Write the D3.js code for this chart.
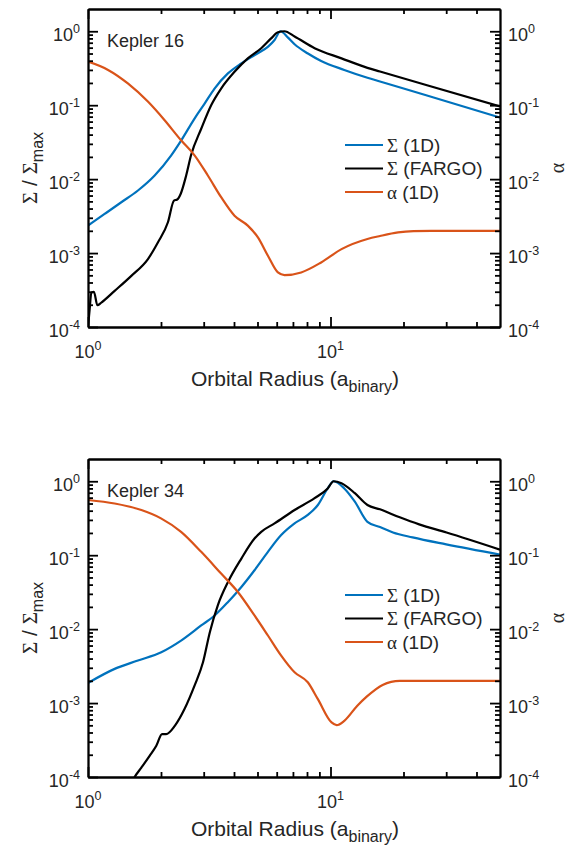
<!DOCTYPE html>
<html>
<head>
<meta charset="utf-8">
<script src="https://cdn.jsdelivr.net/npm/d3@7"></script>
<style>
  body { margin: 0; background: #fff; }
  svg { display: block; }
  text { font-family: Helvetica, Arial, "Liberation Sans", sans-serif; fill: #262626; }
  .sym { font-family: "Times New Roman", "Liberation Serif", "DejaVu Serif", serif; }
</style>
</head>
<body>
<svg id="chart" width="575" height="845"></svg>
<script>
// Kepler 16 panel, [radius, value]
const k16_sig1d = [
  [1, 2.35e-3], [1.171, 3.38e-3], [1.372, 4.87e-3], [1.607, 7.02e-3], [1.883, 0.0112],
  [2.204, 0.021], [2.424, 0.0335], [2.75, 0.066], [3.026, 0.105], [3.325, 0.168],
  [3.776, 0.269], [4.288, 0.368], [4.87, 0.477], [5.53, 0.62], [5.88, 0.762], [6.22, 1.0],
  [6.68, 0.82], [7.11, 0.667], [8.07, 0.5], [9.15, 0.396], [11.4, 0.3], [14.2, 0.235],
  [16, 0.209], [25, 0.135], [50, 0.068]
]
const k16_fargo = [
  [1.0, 1.0e-4], [1.016, 1.74e-4], [1.032, 2.92e-4], [1.058, 2.99e-4], [1.093, 1.97e-4],
  [1.135, 2.14e-4], [1.288, 3.08e-4], [1.509, 4.92e-4], [1.767, 8.3e-4], [1.944, 1.4e-3],
  [2.136, 2.61e-3], [2.262, 5.13e-3], [2.333, 5.3e-3], [2.41, 6.3e-3], [2.54, 0.0112],
  [2.66, 0.021], [2.93, 0.048], [3.22, 0.1], [3.54, 0.168], [4.02, 0.283], [4.56, 0.43],
  [5.18, 0.59], [5.69, 0.8], [6.07, 0.97], [6.46, 1.0], [7.11, 0.85], [8.6, 0.59],
  [11.1, 0.43], [14.2, 0.32], [16, 0.285], [25, 0.186], [50, 0.096]
]
const k16_alpha = [
  [1, 0.388], [1.21, 0.30], [1.46, 0.197], [1.77, 0.111], [2.07, 0.0626], [2.42, 0.0335],
  [2.75, 0.021], [3.12, 0.0112], [3.54, 5.7e-3], [4.02, 3.2e-3], [4.56, 2.35e-3],
  [5.02, 1.63e-3], [5.52, 9.2e-4], [6.07, 5.47e-4], [6.46, 5.03e-4], [7.57, 5.47e-4],
  [9.15, 7.47e-4], [11.1, 1.13e-3], [14.2, 1.55e-3], [16, 1.7e-3], [19, 1.9e-3],
  [22, 1.98e-3], [26, 2.0e-3], [50, 2.0e-3]
]

// Kepler 34 panel
const k34_sig1d = [
  [1, 1.87e-3], [1.288, 2.9e-3], [1.607, 3.76e-3], [2.005, 4.87e-3], [2.42, 7.0e-3],
  [2.93, 0.0112], [3.33, 0.0153], [3.78, 0.0233], [4.29, 0.0372], [4.86, 0.0626],
  [5.52, 0.111], [6.26, 0.187], [7.11, 0.269], [8.06, 0.35], [8.87, 0.477], [9.74, 0.8],
  [10.3, 1.0], [11.4, 0.8], [12.6, 0.53], [14.2, 0.283], [16, 0.24], [18.1, 0.203],
  [21.8, 0.174], [30, 0.14], [50, 0.102]
]
const k34_fargo = [
  [1.5, 8e-5], [1.557, 1.0e-4], [1.66, 1.34e-4], [1.795, 1.93e-4], [1.913, 2.64e-4],
  [2.02, 3.8e-4], [2.1, 3.8e-4], [2.28, 4.92e-4], [2.5, 8.3e-4], [2.75, 1.72e-3],
  [2.98, 3.56e-3], [3.18, 9.1e-3], [3.43, 0.021], [3.78, 0.0435], [4.29, 0.09],
  [4.86, 0.168], [5.18, 0.207], [5.88, 0.269], [7.11, 0.408], [8.6, 0.59], [9.74, 0.8],
  [10.3, 1.0], [11.1, 0.94], [12.6, 0.69], [14.2, 0.477], [16, 0.417], [19.3, 0.325],
  [23.2, 0.261], [30.1, 0.203], [50, 0.119]
]
const k34_alpha = [
  [1, 0.558], [1.288, 0.50], [1.66, 0.408], [2.0, 0.315], [2.42, 0.207], [2.93, 0.111],
  [3.54, 0.0564], [4.15, 0.0318], [4.86, 0.0153], [5.52, 8.2e-3], [6.26, 4.39e-3],
  [7.11, 2.61e-3], [8.06, 1.91e-3], [8.87, 1.13e-3], [10.1, 5.47e-4], [10.6, 5.03e-4],
  [11.4, 5.75e-4], [12.9, 9.2e-4], [14.1, 1.22e-3], [16.4, 1.76e-3], [19.3, 2.0e-3],
  [50, 2.0e-3]
]

const xMajor = [1, 10]
const xMinor = [2, 3, 4, 5, 6, 7, 8, 9, 20, 30, 40]
const xLabels = ["0", "1"]
const yMajor = [1e-4, 1e-3, 1e-2, 1e-1, 1]
const yLabels = ["-4", "-3", "-2", "-1", "0"]
const legendNames = [["\u03A3", " (1D)"], ["\u03A3", " (FARGO)"], ["\u03B1", " (1D)"]]
const colors = ["#0072BD", "#000000", "#D95319"]

const yMinor = []
yMajor.slice(0, 4).forEach(d => { for (let k = 2; k <= 9; k++) yMinor.push(d * k) })

const svg = d3.select("#chart")
const W = 412, H = 318, left = 88

const x = d3.scaleLog().domain([1, 50]).range([0, W])
const y = d3.scaleLog().domain([1e-4, 2]).range([H, 0])

const line = d3.line()
  .x(d => x(d[0]))
  .y(d => y(d[1]))
  .curve(d3.curveMonotoneX)

function panel(top, name, series, id) {
  const g = svg.append("g").attr("transform", `translate(${left},${top})`)

  g.append("clipPath").attr("id", id).append("rect").attr("width", W).attr("height", H)

  series.forEach((s, i) => {
    g.append("path")
      .datum(s)
      .attr("d", line)
      .attr("clip-path", `url(#${id})`)
      .attr("fill", "none")
      .attr("stroke", colors[i])
      .attr("stroke-width", 2.2)
  })

  // axes, ticks pointing in
  const axes = [
    [d3.axisBottom(x), `translate(0,${H})`, xMajor, xMinor],
    [d3.axisTop(x), null, xMajor, xMinor],
    [d3.axisLeft(y), null, yMajor, yMinor],
    [d3.axisRight(y), `translate(${W},0)`, yMajor, yMinor]
  ]
  axes.forEach(([ax, tr, maj, min]) => {
    const a = g.append("g").attr("transform", tr)
    a.call(ax.tickValues(min).tickSize(-5).tickSizeOuter(0).tickFormat(""))
    a.append("g").call(ax.tickValues(maj).tickSize(-10).tickSizeOuter(0).tickFormat(""))
    a.selectAll("path, line").attr("stroke", "#000").attr("stroke-width", 1.8)
  })

  // tick labels
  xMajor.forEach((v, i) => {
    const t = g.append("text").attr("x", x(v)).attr("y", H + 31)
      .attr("text-anchor", "middle").style("font-size", "18px")
    t.append("tspan").text("10")
    t.append("tspan").attr("dy", -8).style("font-size", "12.5px").text(xLabels[i])
  })
  yMajor.forEach((v, i) => {
    [[-8, "end"], [W + 8, "start"]].forEach(([px, anchor]) => {
      const t = g.append("text").attr("x", px).attr("y", y(v) + 10)
        .attr("text-anchor", anchor).style("font-size", "18px")
      t.append("tspan").text("10")
      t.append("tspan").attr("dy", -8).style("font-size", "12.5px").text(yLabels[i])
    })
  })

  // axis titles
  const xl = g.append("text").attr("x", W / 2 + 1).attr("y", H + 59)
    .attr("text-anchor", "middle").style("font-size", "21px")
  xl.append("tspan").text("Orbital Radius (a")
  xl.append("tspan").attr("dy", 6).style("font-size", "16px").text("binary")
  xl.append("tspan").attr("dy", -6).text(")")

  const yl = g.append("text").attr("transform", `translate(${-51},${H / 2}) rotate(-90)`)
    .attr("text-anchor", "middle").style("font-size", "21px")
  yl.append("tspan").attr("class", "sym").text("\u03A3")
  yl.append("tspan").text(" / ")
  yl.append("tspan").attr("class", "sym").text("\u03A3")
  yl.append("tspan").attr("dy", 6).style("font-size", "16px").text("max")

  g.append("text").attr("class", "sym")
    .attr("transform", `translate(${W + 64},${H / 2}) rotate(-90)`)
    .attr("text-anchor", "middle").style("font-size", "20px").text("\u03B1")

  g.append("text").attr("x", 19).attr("y", 38).style("font-size", "18px").text(name)

  // legend
  legendNames.forEach((n, i) => {
    const ly = 136 + i * 23.5
    g.append("line").attr("x1", 257).attr("x2", 295).attr("y1", ly).attr("y2", ly)
      .attr("stroke", colors[i]).attr("stroke-width", 2.2)
    const t = g.append("text").attr("x", 299).attr("y", ly + 6.5).style("font-size", "19px")
    t.append("tspan").attr("class", "sym").text(n[0])
    t.append("tspan").text(n[1])
  })
}

panel(9, "Kepler 16", [k16_sig1d, k16_fargo, k16_alpha], "clip16")
panel(459, "Kepler 34", [k34_sig1d, k34_fargo, k34_alpha], "clip34")
</script>
</body>
</html>
